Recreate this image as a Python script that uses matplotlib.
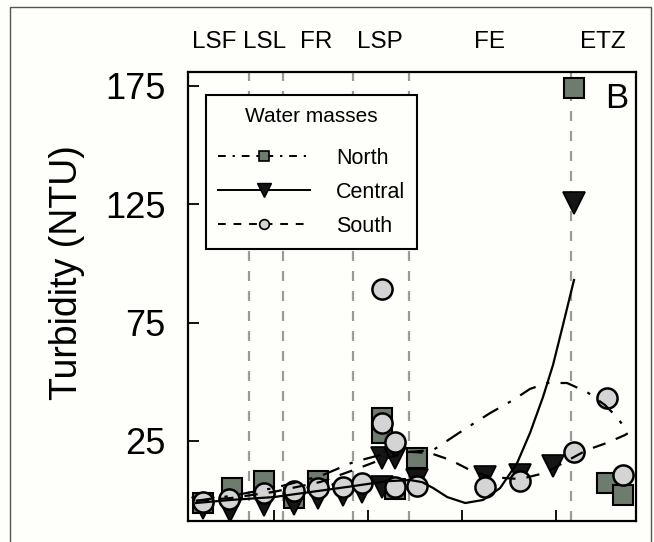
import matplotlib
matplotlib.use("Agg")
import matplotlib.pyplot as plt
from matplotlib.lines import Line2D
from matplotlib.patches import Rectangle
import matplotlib.transforms as mtransforms

plt.rcParams['font.family'] = ['Liberation Sans', 'DejaVu Sans']

# ---------------- data ----------------
north_x = [0.247, 0.555, 0.894, 1.212, 1.466, 2.156, 2.156, 2.293, 2.527, 4.191, 4.541, 4.710]
north_y = [-1.2, 5.1, 8.1, 0.9, 8.1, 34.7, 28.4, 4.7, 17.8, 174.0, 7.3, 2.2]

central_x = [0.247, 0.534, 0.894, 1.212, 1.466, 1.742, 1.943, 2.156, 2.156, 2.293, 2.527, 3.247, 3.618, 3.968, 4.191]
central_y = [-3.3, -4.6, -2.0, -1.6, 0.9, 2.2, 3.5, 17.8, 5.6, 17.8, 8.5, 9.8, 10.6, 14.4, 125.5]

south_x = [0.247, 0.523, 0.894, 1.212, 1.466, 1.742, 1.943, 2.156, 2.156, 2.293, 2.293, 2.527, 3.247, 3.618, 4.191, 4.541, 4.710]
south_y = [-0.8, 0.5, 3.0, 3.9, 5.1, 5.6, 7.3, 89.2, 32.6, 24.6, 5.6, 6.0, 5.6, 8.1, 20.4, 43.2, 10.6]

# fitted curves
north_fit_x = [0.173, 0.544, 1.0, 1.498, 1.848, 2.134, 2.452, 2.696, 3.014, 3.300, 3.544, 3.724, 3.905, 4.117, 4.329, 4.520, 4.647, 4.732]
north_fit_y = [-0.3, 1.8, 5.1, 10.2, 16.1, 19.1, 20.4, 21.2, 29.6, 36.8, 42.3, 47.0, 49.5, 49.5, 45.7, 40.2, 35.1, 30.5]

central_fit_x = [0.173, 0.544, 1.0, 1.784, 2.200, 2.452, 2.580, 2.696, 2.845, 3.036, 3.226, 3.406, 3.587, 3.724, 3.862, 3.968, 4.074, 4.191]
central_fit_y = [-1.2, 0.1, 1.3, 5.6, 8.0, 8.5, 7.6, 5.1, 1.3, -1.2, 0.1, 5.1, 15.7, 28.4, 43.6, 57.1, 74.0, 93.0]

south_fit_x = [0.173, 0.544, 1.0, 1.498, 1.848, 2.134, 2.452, 2.664, 2.876, 3.088, 3.300, 3.618, 3.883, 4.074, 4.329, 4.541, 4.732, 4.817]
south_fit_y = [-0.3, 0.9, 3.5, 7.7, 12.7, 17.0, 20.4, 19.9, 17.0, 12.7, 9.8, 8.9, 11.5, 15.7, 21.2, 24.2, 27.5, 29.6]

zone_bounds = [0.735, 1.095, 1.848, 2.442, 4.160]
zone_labels = ["LSF", "LSL", "FR", "LSP", "FE", "ETZ"]
zone_label_x = [0.364, 0.905, 1.456, 2.124, 3.290, 4.498]

y_ticks = [25, 75, 125, 175]
x_ticks = [1, 2, 3, 4]

# ---------------- figure ----------------
W, H = 654, 542
fig = plt.figure(figsize=(W / 100, H / 100), dpi=100)
bg = '#fefefb'
fig.patch.set_facecolor(bg)

ax_l, ax_r, ax_t, ax_b = 188, 636, 72, 521
ax = fig.add_axes([ax_l / W, 1 - ax_b / H, (ax_r - ax_l) / W, (ax_b - ax_t) / H])
ax.set_facecolor(bg)

# border around whole figure
fig.patches.append(Rectangle((10 / W, -0.02), (651 - 10) / W, 1.02 - 7 / H,
                             transform=fig.transFigure, fill=False,
                             edgecolor='#555555', lw=1.0))

for xb in zone_bounds:
    ax.axvline(xb, color='#9a9a9a', lw=1.6, ls=(0, (4.5, 4.5)), zorder=1)

sq_c = '#6e7c6e'
ci_c = '#d4d4d4'
tr_c = '#151515'

ax.plot(north_x, north_y, ls='none', marker='s', ms=14, mfc=sq_c, mec='black', mew=1.5, zorder=3)
ax.plot(central_x, central_y, ls='none', marker='v', ms=16, mfc=tr_c, mec='black', mew=1.2, zorder=4)
ax.plot(south_x, south_y, ls='none', marker='o', ms=14.5, mfc=ci_c, mec='black', mew=1.8, zorder=5)

dashdot = (0, (8, 5, 1.5, 5))
dashed = (0, (6, 5))
ax.plot(north_fit_x, north_fit_y, color='black', lw=1.6, ls=dashdot, zorder=6)
ax.plot(central_fit_x, central_fit_y, color='black', lw=1.6, ls='-', zorder=6)
ax.plot(south_fit_x, south_fit_y, color='black', lw=1.6, ls=dashed, zorder=6)

ax.set_xlim(0.09, 4.85)
ax.set_ylim(-8.8, 180.9)
ax.set_yticks(y_ticks)
ax.set_yticklabels([str(v) for v in y_ticks])
ax.set_xticks(x_ticks)
ax.set_xticklabels([])
ax.tick_params(axis='y', direction='in', length=8, width=1.3, labelsize=26, pad=16)
ax.tick_params(axis='x', direction='in', length=8, width=1.3)
for s in ax.spines.values():
    s.set_linewidth(1.6)

ax.set_ylabel("Turbidity (NTU)", fontsize=27)
ax.yaxis.set_label_coords(-0.23, 0.553)

trans = mtransforms.blended_transform_factory(ax.transData, ax.transAxes)
for lab, xl in zip(zone_labels, zone_label_x):
    ax.text(xl, 1.067, lab, transform=trans, ha='center', va='center', fontsize=17.5)

ax.text(0.958, 0.942, "B", transform=ax.transAxes, ha='center', va='center', fontsize=25)

handles = [
    Line2D([], [], color='black', lw=1.4, ls=(0, (4, 3.5, 1.2, 3.5)), marker='s', ms=7, mfc=sq_c, mec='black', mew=1.2),
    Line2D([], [], color='black', lw=1.4, ls='-', marker='v', ms=10, mfc=tr_c, mec='black'),
    Line2D([], [], color='black', lw=1.4, ls=(0, (4, 4)), marker='o', ms=7, mfc=ci_c, mec='black', mew=1.2),
]
leg = ax.legend(handles, ["North", "Central", "South"], title="Water masses",
                loc='upper left', bbox_to_anchor=(0.04, 0.949), fontsize=15.5,
                title_fontsize=15, handlelength=4.3, handletextpad=1.2,
                labelspacing=0.6, borderpad=0.55, fancybox=False, framealpha=1,
                edgecolor='black', facecolor=bg, borderaxespad=0)
leg._legend_box.sep = 16
leg.get_frame().set_linewidth(1.5)
leg.set_zorder(10)

fig.savefig("out.png", dpi=100, facecolor=fig.get_facecolor())
